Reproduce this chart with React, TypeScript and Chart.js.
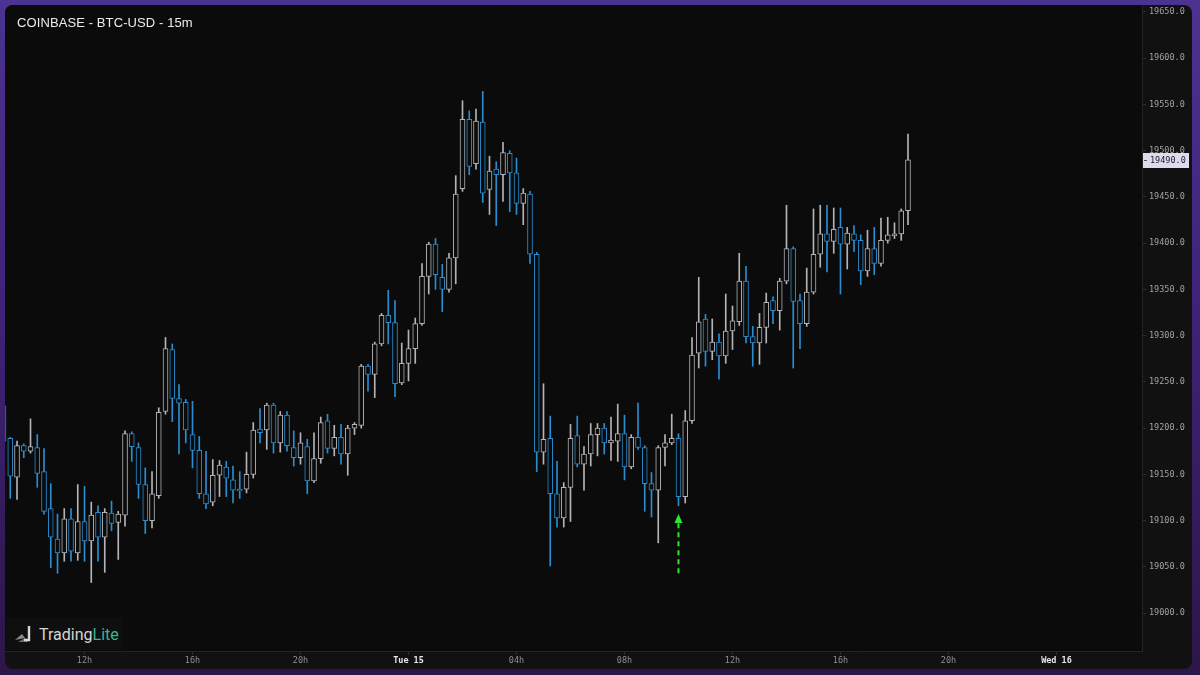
import React, { useEffect, useRef } from "react";
import { Chart, registerables } from "chart.js";

Chart.register(...registerables);

const chartTitle = "COINBASE - BTC-USD - 15m";

// 15-minute candles, index 0 = Mon 09:00
const opens = [
  19224, 19189, 19147, 19181, 19175, 19179, 19153, 19113, 19080, 19065,
  19102, 19065, 19099, 19078, 19109, 19082, 19108, 19098, 19106, 19194,
  19179, 19139, 19100, 19127, 19218, 19285, 19232, 19228, 19193, 19176,
  19129, 19120, 19149, 19158, 19144, 19134, 19134, 19150, 19199, 19198,
  19225, 19184, 19214, 19179, 19168, 19180, 19143, 19167, 19208, 19178,
  19190, 19172, 19200, 19203, 19267, 19258, 19291, 19322, 19314, 19249,
  19270, 19286, 19313, 19364, 19399, 19363, 19350, 19384, 19459, 19534,
  19486, 19531, 19458, 19480, 19474, 19497, 19476, 19443, 19453, 19388,
  19174, 19189, 19129, 19103, 19136, 19192, 19161, 19172, 19193, 19200,
  19184, 19186, 19194, 19158, 19190, 19179, 19140, 19133, 19179, 19184,
  19189, 19126, 19208, 19281, 19318, 19283, 19293, 19278, 19305, 19315,
  19359, 19299, 19292, 19309, 19338, 19327, 19359, 19394, 19338, 19313,
  19347, 19388, 19410, 19402, 19417, 19399, 19410, 19403, 19370, 19394,
  19378, 19403, 19408, 19410, 19435,
];

const highs = [
  19226, 19190, 19186, 19183, 19210, 19193, 19178, 19140, 19107, 19113,
  19113, 19139, 19137, 19120, 19116, 19113, 19121, 19110, 19197, 19196,
  19184, 19157, 19153, 19222, 19298, 19291, 19247, 19231, 19229, 19191,
  19175, 19166, 19165, 19164, 19159, 19153, 19174, 19206, 19221, 19227,
  19227, 19218, 19218, 19197, 19195, 19188, 19195, 19212, 19215, 19203,
  19204, 19203, 19206, 19269, 19269, 19293, 19324, 19349, 19338, 19292,
  19306, 19319, 19378, 19401, 19405, 19377, 19389, 19473, 19554, 19543,
  19545, 19564, 19494, 19488, 19509, 19500, 19492, 19459, 19456, 19390,
  19248, 19213, 19164, 19141, 19204, 19213, 19180, 19205, 19205, 19205,
  19212, 19226, 19214, 19193, 19227, 19181, 19152, 19181, 19193, 19215,
  19194, 19219, 19298, 19363, 19323, 19318, 19302, 19345, 19332, 19389,
  19375, 19310, 19324, 19346, 19342, 19362, 19441, 19396, 19345, 19373,
  19437, 19441, 19441, 19438, 19438, 19417, 19419, 19409, 19414, 19417,
  19427, 19428, 19422, 19437, 19518,
];

const lows = [
  19180, 19124, 19123, 19168, 19173, 19136, 19107, 19049, 19043, 19056,
  19056, 19057, 19056, 19033, 19056, 19044, 19089, 19058, 19094, 19164,
  19124, 19086, 19092, 19124, 19215, 19207, 19172, 19184, 19157, 19124,
  19113, 19116, 19126, 19126, 19119, 19124, 19130, 19146, 19184, 19177,
  19173, 19174, 19175, 19159, 19161, 19129, 19141, 19162, 19173, 19170,
  19161, 19149, 19193, 19200, 19240, 19233, 19289, 19291, 19234, 19247,
  19251, 19270, 19311, 19345, 19350, 19326, 19347, 19356, 19456, 19474,
  19480, 19444, 19431, 19419, 19445, 19434, 19431, 19420, 19378, 19153,
  19161, 19051, 19093, 19093, 19099, 19158, 19133, 19159, 19170, 19172,
  19165, 19164, 19144, 19156, 19177, 19110, 19104, 19076, 19159, 19182,
  19116, 19119, 19205, 19265, 19267, 19274, 19253, 19270, 19285, 19311,
  19292, 19267, 19269, 19292, 19313, 19306, 19356, 19265, 19286, 19310,
  19345, 19374, 19369, 19389, 19345, 19372, 19391, 19355, 19364, 19366,
  19375, 19400, 19405, 19403, 19420,
];

const closes = [
  19186, 19148, 19181, 19175, 19180, 19151, 19110, 19082, 19065, 19102,
  19067, 19099, 19078, 19106, 19082, 19109, 19097, 19107, 19194, 19180,
  19139, 19100, 19129, 19217, 19286, 19232, 19227, 19198, 19176, 19129,
  19118, 19149, 19160, 19146, 19133, 19132, 19150, 19198, 19195, 19225,
  19184, 19214, 19181, 19168, 19184, 19143, 19167, 19206, 19178, 19190,
  19172, 19200, 19204, 19267, 19258, 19291, 19322, 19314, 19248, 19270,
  19286, 19313, 19364, 19399, 19366, 19350, 19384, 19453, 19534, 19483,
  19532, 19454, 19478, 19474, 19498, 19476, 19443, 19454, 19388, 19174,
  19188, 19129, 19103, 19136, 19189, 19161, 19172, 19193, 19200, 19184,
  19187, 19194, 19158, 19190, 19179, 19140, 19133, 19179, 19184, 19189,
  19126, 19208, 19279, 19315, 19283, 19293, 19278, 19305, 19316, 19359,
  19299, 19292, 19309, 19336, 19327, 19359, 19394, 19337, 19313, 19347,
  19388, 19410, 19402, 19415, 19399, 19411, 19403, 19370, 19394, 19378,
  19403, 19409, 19410, 19435, 19490,
];

const xTickValues = [12, 28, 44, 60, 76, 92, 108, 124, 140, 156];
const xTickLabels = ["12h", "16h", "20h", "Tue 15", "04h", "08h", "12h", "16h", "20h", "Wed 16"];
const yTickValues = [19000, 19050, 19100, 19150, 19200, 19250, 19300, 19350, 19400, 19450, 19500, 19550, 19600, 19650];

const xMin = 0.22;
const xMax = 168.67;
const yMin = 18959;
const yMax = 19657.5;

// green signal arrow under candle 100
const arrowIndex = 100;
const arrowFrom = 19043;
const arrowTo = 19107;

const lastPrice = closes[closes.length - 1];

const PLOT_BG = "#0b0b0b";
const UP = "#b4b4b8";
const DOWN = "#2a8dd0";
const MONO = "'DejaVu Sans Mono', monospace";

export default function App() {
  const canvasRef = useRef<HTMLCanvasElement | null>(null);

  useEffect(() => {
    document.body.style.margin = "0";
    const colors = opens.map((o, i) => (closes[i] >= o ? UP : DOWN));

    const decorPlugin = {
      id: "decor",
      beforeDatasetsDraw(chart: any) {
        const { ctx, chartArea } = chart;
        ctx.save();
        ctx.fillStyle = PLOT_BG;
        ctx.fillRect(chartArea.left, chartArea.top, chartArea.right - chartArea.left, chartArea.bottom - chartArea.top);
        ctx.restore();
      },
      afterDraw(chart: any) {
        const { ctx, chartArea, scales } = chart;
        const x = scales.x.getPixelForValue(arrowIndex);
        const yTip = scales.y.getPixelForValue(arrowTo);
        const yBase = scales.y.getPixelForValue(arrowFrom);
        ctx.save();
        ctx.strokeStyle = "#2ee82e";
        ctx.fillStyle = "#2ee82e";
        ctx.lineWidth = 2;
        ctx.setLineDash([5, 4]);
        ctx.beginPath();
        ctx.moveTo(x, yBase);
        ctx.lineTo(x, yTip + 9);
        ctx.stroke();
        ctx.setLineDash([]);
        ctx.beginPath();
        ctx.moveTo(x, yTip);
        ctx.lineTo(x - 4, yTip + 9);
        ctx.lineTo(x + 4, yTip + 9);
        ctx.closePath();
        ctx.fill();

        // last price tag
        const yp = Math.round(scales.y.getPixelForValue(lastPrice));
        const left = chartArea.right + 1;
        ctx.fillStyle = "#dcdcee";
        ctx.fillRect(left, yp - 7, 46, 15);
        ctx.fillStyle = "#1c1c28";
        ctx.font = `8.5px ${MONO}`;
        ctx.textBaseline = "middle";
        ctx.textAlign = "left";
        ctx.fillText(lastPrice.toFixed(1), chartArea.right + 8, yp + 0.5);
        ctx.strokeStyle = "#555";
        ctx.lineWidth = 1;
        ctx.beginPath();
        ctx.moveTo(left + 1, yp + 0.5);
        ctx.lineTo(left + 4, yp + 0.5);
        ctx.stroke();
        ctx.restore();
      },
    };

    const chart = new Chart(canvasRef.current as HTMLCanvasElement, {
      type: "bar",
      data: {
        datasets: [
          {
            label: "body",
            order: 0,
            data: opens.map((o, i) => ({ x: i, y: [o, closes[i]] })),
            backgroundColor: PLOT_BG,
            borderColor: colors,
            borderWidth: 1,
            borderSkipped: false,
            barThickness: 5,
            grouped: false,
          } as any,
          {
            label: "wick",
            order: 1,
            data: lows.map((l, i) => ({ x: i, y: [l, highs[i]] })),
            backgroundColor: colors,
            borderWidth: 0,
            barThickness: 1,
            grouped: false,
          } as any,
        ],
      },
      options: {
        animation: false,
        responsive: true,
        maintainAspectRatio: false,
        events: [],
        layout: { padding: 0, autoPadding: false } as any,
        plugins: {
          legend: { display: false },
          tooltip: { enabled: false },
        },
        scales: {
          x: {
            type: "linear",
            min: xMin,
            max: xMax,
            offset: false,
            afterBuildTicks(scale: any) {
              scale.ticks = xTickValues.map((v) => ({ value: v }));
            },
            afterFit(scale: any) {
              scale.height = 18;
              scale.paddingLeft = 0;
              scale.paddingRight = 0;
              scale.paddingTop = 0;
              scale.paddingBottom = 0;
            },
            grid: { drawOnChartArea: false, drawTicks: true, tickLength: 4, color: "#2c2c2c", offset: false },
            border: { display: true, color: "#242424" },
            ticks: {
              autoSkip: false,
              maxRotation: 0,
              padding: 1,
              callback: (v: any) => {
                const k = xTickValues.indexOf(Number(v));
                return k >= 0 ? xTickLabels[k] : "";
              },
              color: (c: any) => (String(c.tick?.label || "").includes(" ") ? "#e6e6e6" : "#8e8e8e"),
              font: (c: any) => ({
                family: MONO,
                size: 8.5,
                weight: String(c.tick?.label || "").includes(" ") ? "bold" : "normal",
              }),
            },
          },
          y: {
            type: "linear",
            position: "right",
            min: yMin,
            max: yMax,
            afterBuildTicks(scale: any) {
              scale.ticks = yTickValues.map((v) => ({ value: v }));
            },
            afterFit(scale: any) {
              scale.width = 50;
              scale.paddingLeft = 0;
              scale.paddingRight = 0;
              scale.paddingTop = 0;
              scale.paddingBottom = 0;
            },
            grid: { drawOnChartArea: false, drawTicks: true, tickLength: 4, color: "#2c2c2c" },
            border: { display: true, color: "#242424" },
            ticks: {
              padding: 3,
              color: "#a2a2a2",
              font: { family: MONO, size: 8.5 },
              callback: (v: any) => Number(v).toFixed(1),
            },
          },
        },
      },
      plugins: [decorPlugin],
    });
    return () => chart.destroy();
  }, []);

  return (
    <div
      style={{
        position: "relative",
        width: 1200,
        height: 675,
        overflow: "hidden",
        background: "linear-gradient(180deg, #4c3391 0%, #3f2379 45%, #2c1648 100%)",
      }}
    >
      <div
        style={{
          position: "absolute",
          left: 5,
          top: 5,
          width: 1187,
          height: 664,
          borderRadius: 8,
          overflow: "hidden",
          background: "#111112",
        }}
      >
        <div style={{ position: "absolute", left: 0, top: 0, width: 1187, height: 664 }}>
          <canvas ref={canvasRef} />
        </div>
        <div
          style={{
            position: "absolute",
            left: 12,
            top: 10,
            color: "#ececec",
            font: "500 13px 'Liberation Sans', Arial, sans-serif",
            letterSpacing: 0.1,
          }}
        >
          {chartTitle}
        </div>
        <div
          style={{
            position: "absolute",
            left: 1,
            top: 613,
            width: 116,
            height: 32,
            background: "#0f0f10",
            display: "flex",
            alignItems: "center",
            paddingLeft: 9,
            boxSizing: "border-box",
          }}
        >
          <svg width="20" height="18" viewBox="0 0 20 18" style={{ marginRight: 4 }}>
            <path d="M0 15 L7 9 L10 13 Z" fill="#8a8a8a" />
            <path d="M3 17 L10 13 L13 17 Z" fill="#6a6a6a" />
            <path d="M14 1 L14 15 L9 15" stroke="#d8d8d8" strokeWidth="2.4" fill="none" />
          </svg>
          <span style={{ font: "16px Roboto, sans-serif", color: "#d6d6d6" }}>Trading</span>
          <span style={{ font: "16px Roboto, sans-serif", color: "#3cb58e" }}>Lite</span>
        </div>
      </div>
    </div>
  );
}
